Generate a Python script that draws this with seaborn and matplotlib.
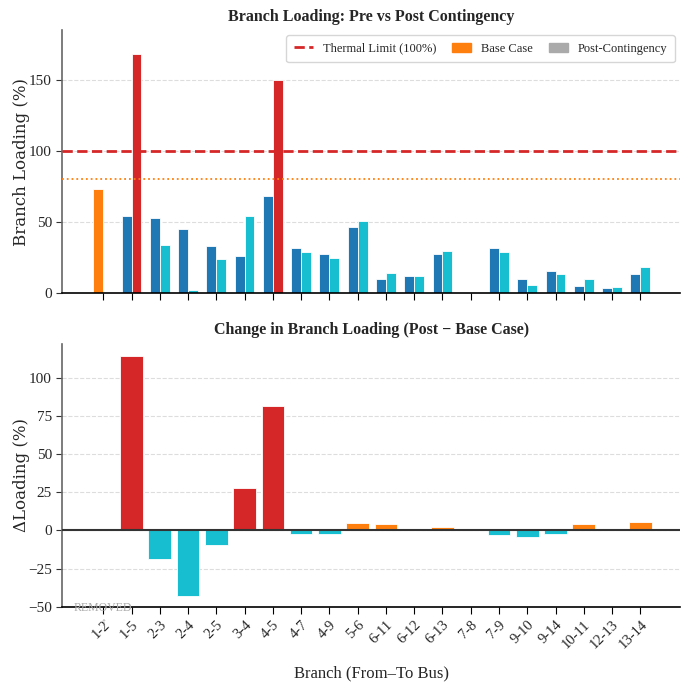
import numpy as np
import pandas as pd
import seaborn as sns
import matplotlib.pyplot as plt
from matplotlib.lines import Line2D
from matplotlib.patches import Patch

branches = ['1-2', '1-5', '2-3', '2-4', '2-5', '3-4', '4-5', '4-7', '4-9', '5-6',
            '6-11', '6-12', '6-13', '7-8', '7-9', '9-10', '9-14', '10-11', '12-13', '13-14']
base = [73.0, 54.0, 52.8, 45.1, 33.3, 26.1, 68.5, 31.4, 27.2, 46.2,
        9.6, 12.0, 27.7, 0.0, 31.4, 9.6, 15.7, 5.2, 3.8, 13.1]
post = [0.0, 168.1, 33.8, 1.9, 23.9, 54.0, 150.0, 28.9, 24.6, 51.0,
        13.8, 12.0, 29.8, 0.0, 28.6, 5.6, 13.1, 9.6, 4.0, 18.3]
removed = '1-2'
thermal_limit = 100
warn_level = 80

BLUE = '#1f77b4'
CYAN = '#17becf'
RED = '#d62728'
ORANGE = '#ff7f0e'

sns.set_style('ticks')
plt.rcParams['font.family'] = ['Liberation Serif', 'DejaVu Serif', 'DejaVu Sans']
ylab_font = ['DejaVu Serif']

fig, (ax1, ax2) = plt.subplots(2, 1, figsize=(6.84, 6.88), dpi=100, sharex=True)
fig.subplots_adjust(left=0.091, right=0.994, top=0.956, bottom=0.118, hspace=0.194)

# top: pre vs post loading
df = pd.DataFrame({
    'branch': branches * 2,
    'loading': base + post,
    'case': ['Base Case'] * len(branches) + ['Post-Contingency'] * len(branches),
})
sns.barplot(data=df, x='branch', y='loading', hue='case', order=branches,
            palette=[BLUE, CYAN], width=0.7, saturation=1, legend=False,
            edgecolor='white', linewidth=0.6, ax=ax1)
for bar, b in zip(ax1.containers[0], branches):
    if b == removed:
        bar.set_facecolor(ORANGE)
for bar, p in zip(ax1.containers[1], post):
    if p > thermal_limit:
        bar.set_facecolor(RED)

ax1.axhline(thermal_limit, color=RED, ls='--', lw=2, zorder=3)
ax1.axhline(warn_level, color=ORANGE, ls=':', lw=1.3, zorder=3)
ax1.set_ylim(0, max(post) * 1.1)
ax1.set_yticks([0, 50, 100, 150])
ax1.set_ylabel('Branch Loading (%)', fontsize=12, family=ylab_font)
ax1.set_xlabel('')
ax1.set_title('Branch Loading: Pre vs Post Contingency', fontsize=11.5, fontweight='bold', pad=7)
ax1.grid(axis='y', ls='--', color='#dddddd', lw=0.8)
ax1.set_axisbelow(True)
handles = [Line2D([0], [0], color=RED, ls='--', lw=2, label='Thermal Limit (100%)'),
           Patch(color=ORANGE, label='Base Case'),
           Patch(color='#aaaaaa', label='Post-Contingency')]
ax1.legend(handles=handles, loc='upper right', ncol=3, fontsize=9, frameon=True,
           handlelength=1.5, handletextpad=0.8, columnspacing=1.3, borderpad=0.6,
           borderaxespad=0.4)

# bottom: change in loading
delta = [np.nan if b == removed else p - q for b, p, q in zip(branches, post, base)]
colors = {}
for b, d in zip(branches, delta):
    if np.isnan(d) or d < 0:
        colors[b] = CYAN
    elif d > 10:
        colors[b] = RED
    else:
        colors[b] = ORANGE
df2 = pd.DataFrame({'branch': branches, 'delta': np.nan_to_num(delta)})
sns.barplot(data=df2, x='branch', y='delta', hue='branch', order=branches,
            palette=colors, width=0.8, saturation=1, legend=False,
            edgecolor='white', linewidth=0.6, ax=ax2)
ax2.axhline(0, color='#333333', lw=1.5, zorder=3)
ax2.set_ylim(-50, 122)
ax2.set_yticks([-50, -25, 0, 25, 50, 75, 100])
ax2.set_ylabel('ΔLoading (%)', fontsize=12, family=ylab_font)
ax2.set_xlabel('Branch (From–To Bus)', fontsize=12, labelpad=10)
ax2.set_title('Change in Branch Loading (Post − Base Case)', fontsize=11.5, fontweight='bold', pad=7)
ax2.grid(axis='y', ls='--', color='#dddddd', lw=0.8)
ax2.set_axisbelow(True)
ax2.text(0, -55.5, 'REMOVED\n↑', ha='center', va='center', fontsize=8.5, color='#aaaaaa',
         linespacing=1.3, clip_on=False, zorder=5)

ax2.set_xlim(-1.45, 20.4)
ax2.tick_params(axis='x', rotation=45, labelsize=10.5, pad=3)
for lab in ax2.get_xticklabels():
    lab.set_ha('right')
    lab.set_rotation_mode('anchor')

for ax in (ax1, ax2):
    sns.despine(ax=ax)
    ax.spines['left'].set_color('#666666')
    ax.spines['left'].set_linewidth(1.2)
    ax.spines['bottom'].set_color('black')
    ax.spines['bottom'].set_linewidth(1.2)
    ax.tick_params(axis='y', labelsize=11, length=4, color='#333333')
    ax.tick_params(axis='x', length=5, color='black')
    ax.yaxis.set_label_coords(-0.053, 0.5)

fig.savefig('out.png', dpi=100)
